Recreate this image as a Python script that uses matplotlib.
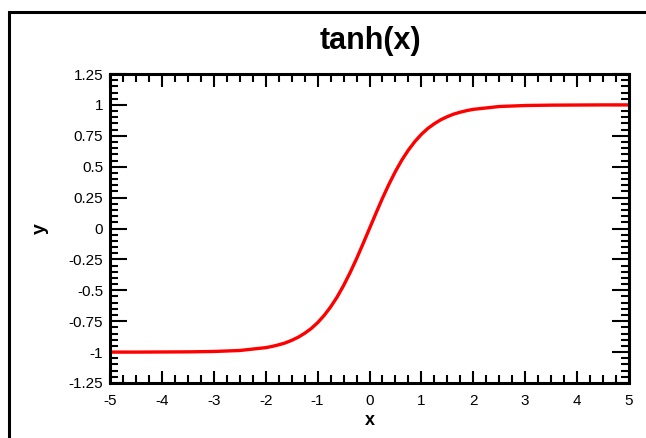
import matplotlib
matplotlib.use("Agg")
import matplotlib.pyplot as plt
from matplotlib.patches import Rectangle
from matplotlib.ticker import MultipleLocator

x_vals = [-5.0, -4.5, -4.0, -3.5, -3.0, -2.5, -2.0, -1.875, -1.75, -1.625, -1.5,
          -1.375, -1.25, -1.125, -1.0, -0.875, -0.75, -0.625, -0.5, -0.375, -0.25,
          -0.125, 0.0, 0.125, 0.25, 0.375, 0.5, 0.625, 0.75, 0.875, 1.0, 1.125,
          1.25, 1.375, 1.5, 1.625, 1.75, 1.875, 2.0, 2.5, 3.0, 3.5, 4.0, 4.5, 5.0]
y_vals = [-1.0, -1.0, -0.999, -0.998, -0.995, -0.987, -0.964, -0.954, -0.941, -0.926, -0.905,
          -0.880, -0.848, -0.810, -0.762, -0.704, -0.635, -0.555, -0.462, -0.358, -0.245,
          -0.124, 0.0, 0.124, 0.245, 0.358, 0.462, 0.555, 0.635, 0.704, 0.762, 0.810,
          0.848, 0.880, 0.905, 0.926, 0.941, 0.954, 0.964, 0.987, 0.995, 0.998, 0.999, 1.0, 1.0]

x_ticks = [-5, -4, -3, -2, -1, 0, 1, 2, 3, 4, 5]
y_ticks = [-1.25, -1.0, -0.75, -0.5, -0.25, 0.0, 0.25, 0.5, 0.75, 1.0, 1.25]
y_tick_labels = ["-1.25", "-1", "-0.75", "-0.5", "-0.25", "0", "0.25", "0.5", "0.75", "1", "1.25"]

plt.rcParams['font.family'] = ['Liberation Sans', 'DejaVu Sans']

fig = plt.figure(figsize=(6.46, 4.38), dpi=100)
fig.patches.append(Rectangle((9/646, -0.1), 1.2, 1.1 - 12.5/438,
                             transform=fig.transFigure, fill=False,
                             edgecolor='black', linewidth=2.2))
ax = fig.add_axes([110/646, 1 - 383/438, (629 - 110)/646, (383 - 74)/438])

ax.plot(x_vals, y_vals, color='#ff0000', linewidth=2.4)
ax.set_xlim(-5, 5)
ax.set_ylim(-1.25, 1.25)
ax.set_xticks(x_ticks)
ax.set_xticklabels([str(t) for t in x_ticks])
ax.set_yticks(y_ticks)
ax.set_yticklabels(y_tick_labels)
ax.xaxis.set_minor_locator(MultipleLocator(0.25))
ax.yaxis.set_minor_locator(MultipleLocator(0.05))
ax.tick_params(which='major', direction='in', top=True, right=True,
               labeltop=False, labelright=False, width=1.5, labelsize=11)
ax.tick_params(axis='y', which='major', length=12, pad=5)
ax.tick_params(axis='x', which='major', length=9, pad=8)
ax.tick_params(which='minor', direction='in', top=True, right=True, width=1.5, length=6)
for s in ax.spines.values():
    s.set_linewidth(2.2)

fig.text(370/646, 1 - 41/438, "tanh(x)", fontsize=22, fontweight='bold',
         ha='center', va='center')
ax.set_xlabel("x", fontsize=13, fontweight='bold', labelpad=3)
ax.set_ylabel("y", fontsize=14, fontweight='bold', labelpad=14)

fig.savefig("out.png", dpi=100)
